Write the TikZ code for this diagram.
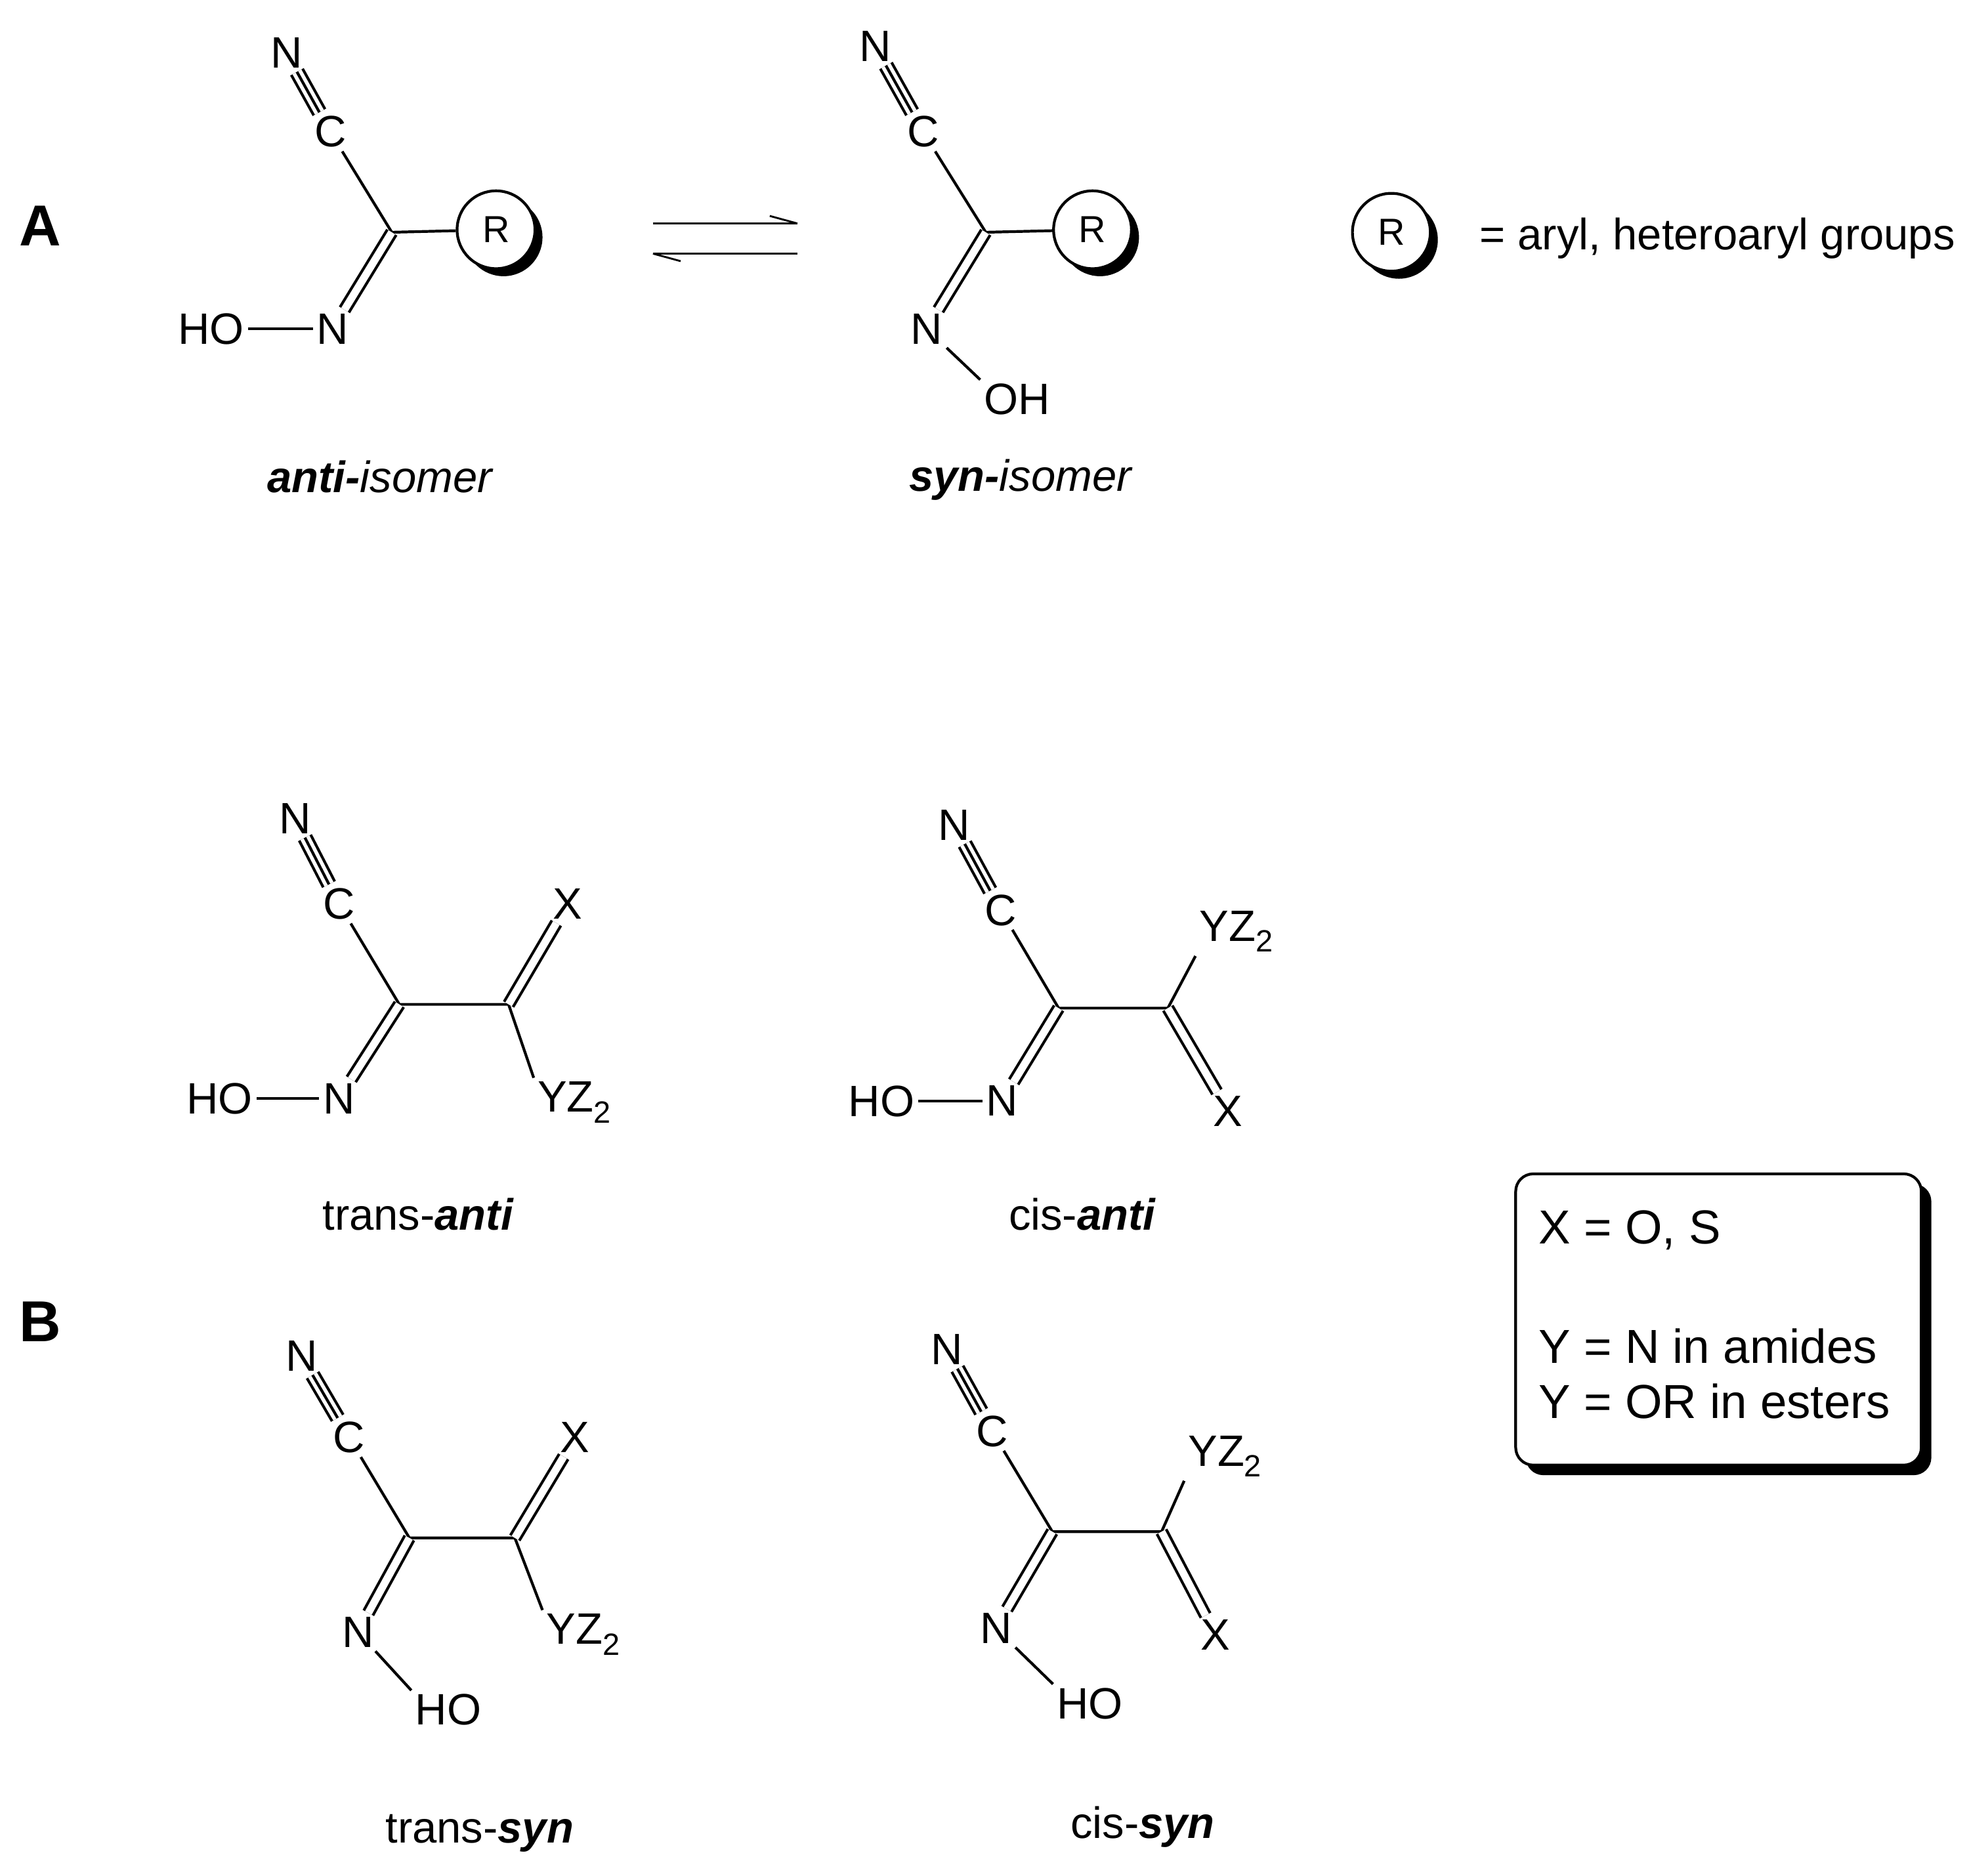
\documentclass[tikz,border=0pt]{standalone}
\usepackage{fontspec}
\setmainfont{Liberation Sans}
\newcommand{\mytriple}[2]{\draw[dbl,double distance=8pt] (#1)--(#2); \draw[bd] (#1)--(#2);}
\newcommand{\myrgroup}[2]{\fill (#1)++(6,6) circle (31); \node[rc] (#2) at (#1) {R};}
\newcommand{\yz}{YZ\textsubscript{2}}
\begin{document}
\begin{tikzpicture}[x=1pt,y=-1pt,
  atm/.style={inner sep=3pt,font=\fontsize{35}{38}\selectfont},
  lab/.style={font=\fontsize{35}{38}\selectfont},
  boxt/.style={font=\fontsize{38}{42}\selectfont},
  bd/.style={line width=2.2pt},
  dbl/.style={line width=2.2pt,double distance=6pt},
  rc/.style={circle,draw,line width=2.2pt,fill=white,minimum size=62pt,inner sep=0pt,font=\fontsize{30}{34}\selectfont}]
\useasboundingbox (0,0) rectangle (1568,1494);
\node[font=\bfseries\fontsize{46}{50}\selectfont] (A) at (32,180) {A};
\node[font=\bfseries\fontsize{46}{50}\selectfont] (B) at (32,1053) {B};
% anti
\node[atm] (n1) at (228,42) {N}; \node[atm] (c1) at (263,105) {C};
\coordinate (k1) at (312,185); \myrgroup{395,183}{r1}
\node[atm] (m1) at (265,262) {N}; \node[atm] (h1) at (168,262) {HO};
\mytriple{n1}{c1} \draw[bd] (c1)--(k1)--(r1); \draw[dbl] (k1)--(m1); \draw[bd] (h1)--(m1);
\node[lab] (l1) at (303,380) {\textbf{\textit{anti-}}\textit{isomer}};
% arrows
\coordinate (a1) at (520,178); \coordinate (a2) at (635,178);
\coordinate (a3) at (520,202); \coordinate (a4) at (635,202);
\draw[line width=1.5pt] (a1)--(a2); \draw[line width=1.5pt] (a2)--++(-22,-6);
\draw[line width=1.5pt] (a4)--(a3); \draw[line width=1.5pt] (a3)--++(22,6);
% syn
\node[atm] (n2) at (697,37) {N}; \node[atm] (c2) at (735,105) {C};
\coordinate (k2) at (785,185); \myrgroup{870,183}{r2}
\node[atm] (m2) at (738,262) {N}; \node[atm] (h2) at (810,318) {OH};
\mytriple{n2}{c2} \draw[bd] (c2)--(k2)--(r2); \draw[dbl] (k2)--(m2); \draw[bd] (m2)--(h2.north west);
\node[lab] (l2) at (813,382) {\textbf{\textit{syn-}}\textit{isomer}};
% legend
\myrgroup{1108,185}{r3}
\node[lab,anchor=west] (t3) at (1175,190) {= aryl, heteroaryl groups};
% trans-anti
\node[atm] (n3) at (235,652) {N}; \node[atm] (c3) at (270,720) {C};
\coordinate (k3) at (318,800); \coordinate (q3) at (405,800);
\node[atm] (x3) at (452,720) {X}; \node[atm,anchor=west] (y3) at (425,878) {\yz};
\node[atm] (m3) at (270,875) {N}; \node[atm] (h3) at (175,875) {HO};
\mytriple{n3}{c3} \draw[bd] (c3)--(k3)--(q3)--(y3.north west); \draw[dbl] (q3)--(x3); \draw[dbl] (k3)--(m3); \draw[bd] (h3)--(m3);
\node[lab] (l3) at (333,967) {trans-\textbf{\textit{anti}}};
% cis-anti
\node[atm] (n4) at (760,657) {N}; \node[atm] (c4) at (797,725) {C};
\coordinate (k4) at (843,803); \coordinate (q4) at (930,803);
\node[atm,anchor=west] (y4) at (952,742) {\yz}; \node[atm] (x4) at (978,885) {X};
\node[atm] (m4) at (798,877) {N}; \node[atm] (h4) at (702,877) {HO};
\mytriple{n4}{c4} \draw[bd] (c4)--(k4)--(q4)--(y4.south west); \draw[dbl] (q4)--(x4); \draw[dbl] (k4)--(m4); \draw[bd] (h4)--(m4);
\node[lab] (l4) at (862,967) {cis-\textbf{\textit{anti}}};
% trans-syn
\node[atm] (n5) at (240,1080) {N}; \node[atm] (c5) at (278,1145) {C};
\coordinate (k5) at (326,1225); \coordinate (q5) at (410,1225);
\node[atm] (x5) at (458,1145) {X}; \node[atm,anchor=west] (y5) at (432,1302) {\yz};
\node[atm] (m5) at (285,1300) {N}; \node[atm] (h5) at (357,1362) {HO};
\mytriple{n5}{c5} \draw[bd] (c5)--(k5)--(q5)--(y5.north west); \draw[dbl] (q5)--(x5); \draw[dbl] (k5)--(m5); \draw[bd] (m5)--(h5.north west);
\node[lab] (l5) at (382,1460) {trans-\textbf{\textit{syn}}};
% cis-syn
\node[atm] (n6) at (754,1075) {N}; \node[atm] (c6) at (790,1140) {C};
\coordinate (k6) at (838,1220); \coordinate (q6) at (925,1220);
\node[atm,anchor=west] (y6) at (943,1160) {\yz}; \node[atm] (x6) at (968,1302) {X};
\node[atm] (m6) at (793,1297) {N}; \node[atm] (h6) at (868,1357) {HO};
\mytriple{n6}{c6} \draw[bd] (c6)--(k6)--(q6)--(y6.south west); \draw[dbl] (q6)--(x6); \draw[dbl] (k6)--(m6); \draw[bd] (m6)--(h6.north west);
\node[lab] (l6) at (910,1455) {cis-\textbf{\textit{syn}}};
% box
\fill[rounded corners=14pt] (1215,943) rectangle (1538,1175);
\draw[line width=2.2pt,fill=white,rounded corners=14pt] (1207,935) rectangle (1530,1167);
\node[boxt,anchor=west] (b1) at (1222,980) {X = O, S};
\node[boxt,anchor=west] (b2) at (1222,1072) {Y = N in amides};
\node[boxt,anchor=west] (b3) at (1222,1116) {Y = OR in esters};
\end{tikzpicture}
\end{document}
